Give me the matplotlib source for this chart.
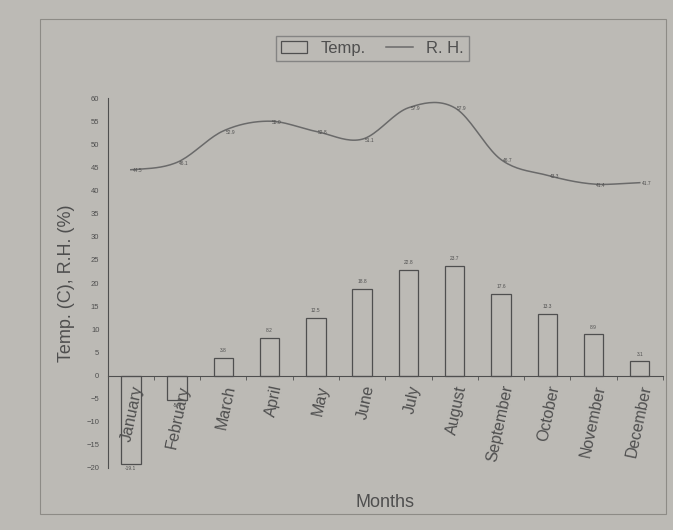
import numpy as np
import matplotlib
matplotlib.use("Agg")
import matplotlib.pyplot as plt
from matplotlib.patches import Rectangle

plt.rcParams["font.family"] = ["Liberation Sans", "DejaVu Sans"]

months = ["January", "February", "March", "April", "May", "June", "July",
          "August", "September", "October", "November", "December"]
temp = [-19.1, -5.4, 3.8, 8.2, 12.5, 18.8, 22.8, 23.7, 17.6, 13.3, 8.9, 3.1]
rh = [44.5, 46.1, 52.9, 55.0, 52.8, 51.1, 57.9, 57.9, 46.7, 43.3, 41.4, 41.7]
yticks = list(range(-20, 61, 5))

bg = "#bcbab5"
ink = "#4f4f4f"


def smooth(xs, ys, n=20):
    # Catmull-Rom curve through the points
    xs = np.asarray(xs, float)
    ys = np.asarray(ys, float)
    px = np.concatenate([[2 * xs[0] - xs[1]], xs, [2 * xs[-1] - xs[-2]]])
    py = np.concatenate([[ys[0]], ys, [ys[-1]]])
    out_x, out_y = [], []
    t = np.linspace(0, 1, n, endpoint=False)
    for i in range(1, len(px) - 2):
        for p, out in ((px, out_x), (py, out_y)):
            p0, p1, p2, p3 = p[i - 1], p[i], p[i + 1], p[i + 2]
            out.extend(0.5 * ((2 * p1) + (-p0 + p2) * t
                              + (2 * p0 - 5 * p1 + 4 * p2 - p3) * t ** 2
                              + (-p0 + 3 * p1 - 3 * p2 + p3) * t ** 3))
    out_x.append(xs[-1])
    out_y.append(ys[-1])
    return np.array(out_x), np.array(out_y)


fig = plt.figure(figsize=(6.73, 5.30), dpi=100, facecolor=bg)
ax = fig.add_axes([0.16, 0.117, 0.825, 0.698], facecolor=bg)

x = np.arange(len(months))
bars = ax.bar(x, temp, width=0.42, facecolor=bg, edgecolor=ink, linewidth=0.9,
              label="Temp.")
for xi, v in zip(x, temp):
    off = 1.0 if v >= 0 else -1.6
    ax.text(xi, v + off, f"{v:.1f}", ha="center", va="bottom", fontsize=3.5,
            color=ink)

sx, sy = smooth(x, rh)
line, = ax.plot(sx, sy, color="#6a6a6a", linewidth=1.1, label="R. H.")
for xi, v in zip(x, rh):
    ax.text(xi + 0.15, v - 0.8, f"{v:.1f}", ha="center", va="bottom",
            fontsize=3.5, color=ink)

ax.set_xlim(-0.5, 11.5)
ax.set_ylim(-20, 60)
ax.set_yticks(yticks)
ax.tick_params(axis="y", labelsize=5.5, colors=ink, length=0, pad=6)

ax.spines["top"].set_visible(False)
ax.spines["right"].set_visible(False)
ax.spines["bottom"].set_position(("data", 0))
for s in ("left", "bottom"):
    ax.spines[s].set_color(ink)
    ax.spines[s].set_linewidth(0.8)

ax.set_xticks(x)
ax.set_xticklabels(months, rotation=78, ha="right", rotation_mode="anchor",
                   fontsize=11.5, color=ink)
ax.tick_params(axis="x", length=0, pad=6)
ax.set_xticks(np.arange(-0.5, 12, 1), minor=True)
ax.tick_params(axis="x", which="minor", length=3, color=ink)

ax.set_ylabel("Temp. (C), R.H. (%)", fontsize=13, color=ink, labelpad=8)
ax.set_xlabel("Months", fontsize=13, color=ink)
ax.xaxis.set_label_coords(0.5, -0.07)

fig.legend(handles=[bars, line], loc="lower center",
           bbox_to_anchor=(0.553, 0.87), ncol=2,
           fontsize=12, frameon=True, fancybox=False, edgecolor="#777777",
           facecolor=bg, labelcolor=ink, handlelength=1.6, columnspacing=1.2,
           borderpad=0.3)

fig.patches.append(Rectangle((0.06, 0.03), 0.93, 0.935, transform=fig.transFigure,
                             fill=False, edgecolor="#8d8b86", linewidth=0.8))

fig.savefig("out.png", dpi=100, facecolor=bg)
